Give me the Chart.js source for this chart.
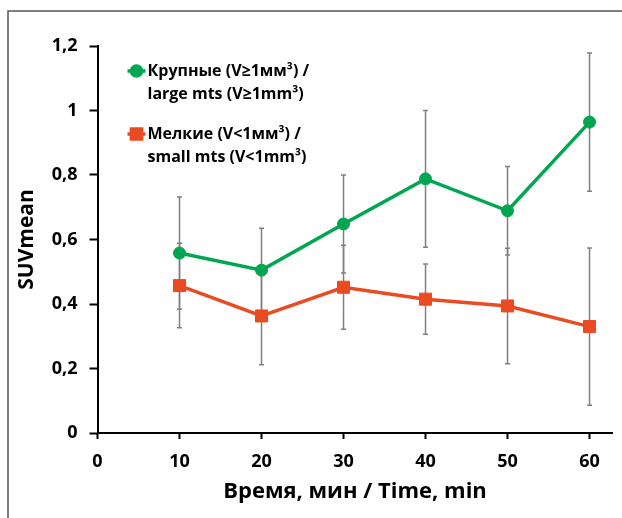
<!DOCTYPE html>
<html><head><meta charset="utf-8">
<script src="https://cdn.jsdelivr.net/npm/chart.js@4"></script>
<style>html,body{margin:0;padding:0;background:#fff}#wrap{width:622px;height:518px}</style>
</head><body><div id="wrap"><canvas id="c" width="622" height="518"></canvas></div>
<script>
// ---- data ----
const times = [10, 20, 30, 40, 50, 60];
const largeMean = [0.558, 0.505, 0.648, 0.788, 0.689, 0.964];
const largeErr  = [0.174, 0.130, 0.152, 0.212, 0.137, 0.214];
const smallMean = [0.457, 0.363, 0.452, 0.415, 0.394, 0.330];
const smallErr  = [0.131, 0.151, 0.130, 0.109, 0.179, 0.244];
const xTickValues = [0, 10, 20, 30, 40, 50, 60];
const yTickValues = [0, 0.2, 0.4, 0.6, 0.8, 1.0, 1.2];
const largeLabel = ['Крупные (V≥1мм³) /', 'large mts (V≥1mm³)'];
const smallLabel = ['Мелкие (V<1мм³) /', 'small mts (V<1mm³)'];
const xTitle = 'Время, мин / Time, min';
const yTitle = 'SUVmean';

const GREEN = '#00A650', RED = '#E94B23';
const FONT = '"Open Sans", "DejaVu Sans", sans-serif';

const errorBars = {
  id: 'errorBars',
  beforeDatasetsDraw(chart) {
    const {ctx, scales: {x, y}} = chart;
    ctx.save();
    ctx.strokeStyle = '#808080';
    ctx.lineWidth = 1.5;
    chart.data.datasets.forEach(ds => {
      ds.data.forEach((p, i) => {
        const e = ds.errors[i];
        const px = x.getPixelForValue(p.x);
        const y1 = y.getPixelForValue(p.y + e);
        const y2 = y.getPixelForValue(p.y - e);
        ctx.beginPath();
        ctx.moveTo(px, y1); ctx.lineTo(px, y2);
        ctx.moveTo(px - 2.5, y1); ctx.lineTo(px + 2.5, y1);
        ctx.moveTo(px - 2.5, y2); ctx.lineTo(px + 2.5, y2);
        ctx.stroke();
      });
    });
    ctx.restore();
  }
};

const legendAndFrame = {
  id: 'legendAndFrame',
  afterDraw(chart) {
    const ctx = chart.ctx, ca = chart.chartArea;
    ctx.save();
    // frame
    ctx.strokeStyle = '#555';
    ctx.lineWidth = 1.5;
    ctx.beginPath();
    ctx.moveTo(8, 518); ctx.lineTo(8, 11); ctx.lineTo(622, 11);
    ctx.stroke();
    // legend
    chart.data.datasets.forEach((ds, i) => {
      const y0 = ca.top + 25 + i * 63;
      const x0 = ca.left + 30;
      ctx.strokeStyle = ds.borderColor;
      ctx.lineWidth = 3.5;
      ctx.beginPath(); ctx.moveTo(x0, y0); ctx.lineTo(x0 + 18, y0); ctx.stroke();
      ctx.fillStyle = ds.backgroundColor;
      Chart.helpers.drawPoint(ctx, {pointStyle: ds.pointStyle, radius: ds.pointRadius * 0.85, rotation: 0, borderWidth: 1}, x0 + 9, y0);
      ctx.fillStyle = '#000';
      ctx.font = 'bold 16px ' + FONT;
      ctx.textBaseline = 'middle';
      ctx.textAlign = 'left';
      ds.label.forEach((t, k) => ctx.fillText(t, x0 + 20, y0 + k * 23));
    });
    ctx.restore();
  }
};

const fmt = v => v === 0 ? '0' : (Math.abs(v - Math.round(v)) < 1e-9 ? String(Math.round(v)) : v.toFixed(1).replace('.', ','));

new Chart(document.getElementById('c'), {
  type: 'line',
  data: {
    datasets: [
      {label: largeLabel, data: times.map((t, i) => ({x: t, y: largeMean[i]})), errors: largeErr,
       borderColor: GREEN, backgroundColor: GREEN, borderWidth: 3.5, pointStyle: 'circle', pointRadius: 6,
       pointBorderWidth: 1, pointBorderColor: GREEN, tension: 0},
      {label: smallLabel, data: times.map((t, i) => ({x: t, y: smallMean[i]})), errors: smallErr,
       borderColor: RED, backgroundColor: RED, borderWidth: 3.5, pointStyle: 'rect', pointRadius: 8.5,
       pointBorderWidth: 1, pointBorderColor: RED, tension: 0}
    ]
  },
  options: {
    responsive: false, animation: false, devicePixelRatio: 1,
    layout: {padding: {top: 46, left: 0, right: 0, bottom: 0}},
    plugins: {legend: {display: false}, tooltip: {enabled: false}},
    scales: {
      x: {
        type: 'linear', min: 0, max: 62.8,
        afterBuildTicks: s => { s.ticks = xTickValues.map(v => ({value: v})); },
        afterFit: s => { s.height = 85; s.paddingLeft = 0; s.paddingRight = 0; },
        border: {display: true, color: '#000', width: 2},
        grid: {display: true, drawOnChartArea: false, drawTicks: true, tickLength: 6, tickColor: '#000', tickWidth: 2},
        ticks: {color: '#000', font: {family: FONT, size: 18, weight: 'bold'}, padding: 12, maxRotation: 0, callback: v => String(v)},
        title: {display: true, text: xTitle, color: '#000', font: {family: FONT, size: 22, weight: 'bold'}, padding: {top: 4, bottom: 13}}
      },
      y: {
        min: 0, max: 1.2,
        afterBuildTicks: s => { s.ticks = yTickValues.map(v => ({value: v})); },
        afterFit: s => { s.width = 97.5; s.paddingTop = 0; s.paddingBottom = 0; },
        border: {display: true, color: '#000', width: 2},
        grid: {display: true, drawOnChartArea: false, drawTicks: true, tickLength: 8, tickColor: '#000', tickWidth: 2},
        ticks: {color: '#000', font: {family: FONT, size: 18, weight: 'bold'}, padding: 12, callback: fmt},
        title: {display: true, text: yTitle, color: '#000', font: {family: FONT, size: 21, weight: 'bold'}, padding: {top: 14, bottom: 0}}
      }
    }
  },
  plugins: [errorBars, legendAndFrame]
});
</script></body></html>
